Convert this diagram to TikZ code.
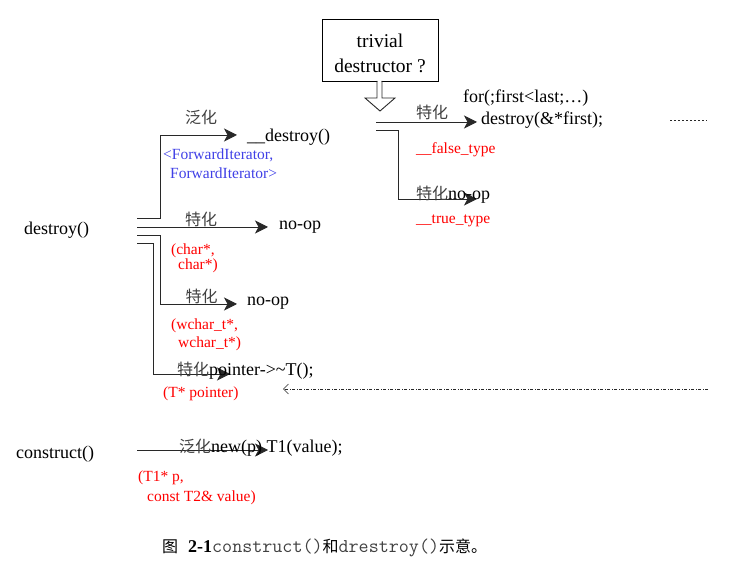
\documentclass[tikz,border=0pt]{standalone}
\usepackage{fontspec}
\setmainfont{Liberation Serif}
\newfontfamily\cjk{Noto Sans CJK SC}
\usetikzlibrary{arrows.meta}
\definecolor{iterblue}{RGB}{64,64,230}
\definecolor{typered}{RGB}{255,0,0}
\definecolor{wire}{RGB}{40,40,40}
\begin{document}
\begin{tikzpicture}[x=1pt,y=-1pt,
  txt/.style={anchor=mid west, inner sep=0pt, yshift=-4.5pt, font=\fontsize{18}{20}\selectfont},
  sm/.style={anchor=mid west, inner sep=0pt, yshift=-4pt, font=\fontsize{15.5}{17}\selectfont},
  arg/.style={sm, text=typered},
  iter/.style={sm, text=iterblue},
  kind/.style={anchor=center, inner sep=0pt, text=black!75, font=\cjk\fontsize{16}{18}\selectfont},
  wire/.style={draw=wire, line width=0.9pt},
  flow/.style={wire, -{Stealth[length=13pt,width=13pt,inset=3.5pt]}},
  boxtxt/.style={anchor=mid, inner sep=0pt, yshift=-4.5pt, font=\fontsize{19.5}{22}\selectfont},
]
\useasboundingbox (0,0) rectangle (729,561);

% decision box with hollow arrow below it
\node[draw=black, line width=0.9pt, minimum width=116pt, minimum height=62pt, inner sep=0pt] (q) at (380,50) {};
\node[boxtxt] (q1) at (380,41) {trivial};
\node[boxtxt] (q2) at (380,66) {destructor ?};
\fill[white] (377.45,80) -- (377.45,98) -- (365,98) -- (380,111) -- (395,98) -- (381.55,98) -- (381.55,80) -- cycle;
\draw[wire, line join=miter] (377,81) -- (377,98) -- (365,98) -- (380,111) -- (395,98) -- (382,98) -- (382,81);

% entry points
\node[txt] (destroy) at (24,227.5) {destroy()};
\node[txt] (construct) at (16,452) {construct()};

% branch coordinates
\coordinate (a0) at (137,218);   \coordinate (a1) at (160,135);  \coordinate (a2) at (237,135);
\coordinate (b0) at (137,227);   \coordinate (b2) at (268,227);
\coordinate (c0) at (137,235);   \coordinate (c1) at (160,304);  \coordinate (c2) at (237,304);
\coordinate (e0) at (137,243);   \coordinate (e1) at (153,374);  \coordinate (e2) at (230,374);
\coordinate (f0) at (376,122);   \coordinate (f2) at (477,122);
\coordinate (g0) at (376,130.7); \coordinate (g1) at (398.7,199); \coordinate (g2) at (477,199);
\coordinate (h0) at (137,450);   \coordinate (h2) at (268,450);
\coordinate (p0) at (708,389);   \coordinate (p2) at (283,389);
\coordinate (r0) at (670,120);   \coordinate (r2) at (707,120);

\draw[flow] (a0) -| (a1) -- (a2);
\draw[flow] (b0) -- (b2);
\draw[flow] (c0) -| (c1) -- (c2);
\draw[flow] (e0) -| (e1) -- (e2);
\draw[flow] (f0) -- (f2);
\draw[flow] (g0) -| (g1) -- (g2);
\draw[flow] (h0) -- (h2);
\draw[draw=wire, line width=0.6pt, dash pattern=on 3pt off 1.5pt on 1pt off 1.5pt,
      -{Straight Barb[length=5pt,width=10pt]}] (p0) -- (p2);
\draw[draw=wire, line width=0.6pt, dash pattern=on 2pt off 2pt] (r0) -- (r2);

% generic __destroy()
\node[kind] (k1) at (201,117) {泛化};
\node[txt] (t1) at (247,134.5) {\_\_destroy()};
\node[iter] (i1) at (163,153) {<ForwardIterator,};
\node[iter] (i2) at (170,172) {ForwardIterator>};

% char* specialisation
\node[kind] (k2) at (201,219) {特化};
\node[txt] (t2) at (279,222.5) {no-op};
\node[arg] (r1a) at (171,248.5) {(char*,};
\node[arg] (r1b) at (178,263) {char*)};

% wchar_t* specialisation
\node[kind] (k3) at (201.5,296) {特化};
\node[txt] (t3) at (247,299) {no-op};
\node[arg] (r2a) at (171,323) {(wchar\_t*,};
\node[arg] (r2b) at (178,341) {wchar\_t*)};

% single pointer
\node[txt] (t4) at (177,369) {{\cjk\fontsize{16}{18}\selectfont\color{black!75}特化}pointer->\textasciitilde T();};
\node[arg] (r3) at (163,391) {(T* pointer)};

% __destroy_aux branches
\node[txt] (t5) at (463,95.5) {for(;first<last;…)};
\node[txt] (t6) at (481,117.5) {destroy(\&*first);};
\node[kind] (k5) at (432,112.5) {特化};
\node[arg] (r5) at (416,147) {\_\_false\_type};
\node[txt] (t7) at (416,193) {{\cjk\fontsize{16}{18}\selectfont\color{black!75}特化}no-op};
\node[arg] (r6) at (416,217) {\_\_true\_type};

% construct
\node[txt] (t8) at (179,445.5) {{\cjk\fontsize{16}{18}\selectfont\color{black!75}泛化}new(p) T1(value);};
\node[arg] (r7a) at (138,475) {(T1* p,};
\node[arg] (r7b) at (147,495) {const T2\& value)};

% caption
\node[anchor=mid west, inner sep=0pt, yshift=-3pt, font=\fontsize{19.5}{21}\selectfont] (cap) at (162,547)
  {{\cjk\fontsize{16}{18}\selectfont 图}\hspace{10pt}\textbf{\fontsize{18}{20}\selectfont 2-1}{\ttfamily\color{black!75}construct()}{\cjk\fontsize{16}{18}\selectfont 和}{\ttfamily\color{black!75}drestroy()}{\cjk\fontsize{16}{18}\selectfont 示意。}};
\end{tikzpicture}
\end{document}
